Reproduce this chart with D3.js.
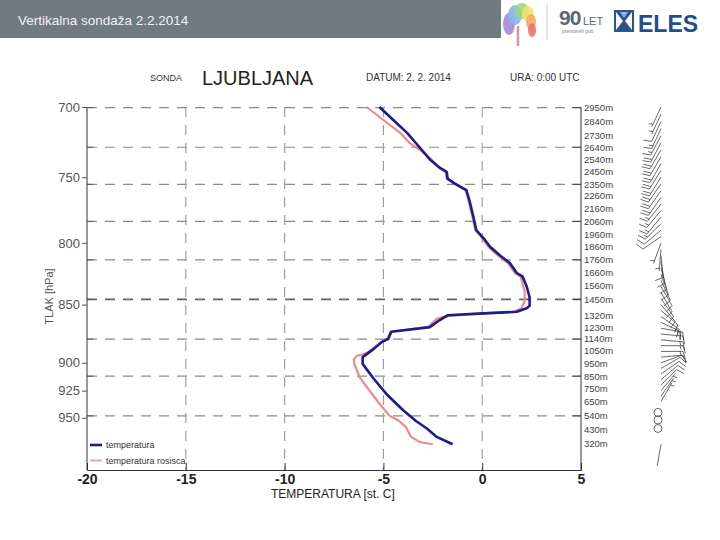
<!DOCTYPE html>
<html><head><meta charset="utf-8">
<script src="https://cdn.jsdelivr.net/npm/d3@7"></script>
<style>body{margin:0;background:#fff} svg{display:block;font-family:"Liberation Sans",Arial,sans-serif}</style>
</head><body><svg id="c" width="720" height="540"></svg>
<script>
// ---- data ----
const pressureTicks = [700, 750, 800, 850, 900, 925, 950];
const tempTicks = [-20, -15, -10, -5, 0, 5];
const gridTemps = [-15, -10, -5, 0];
const heightLabels = [2950, 2840, 2730, 2640, 2540, 2450, 2350, 2260, 2160, 2060, 1960, 1860, 1760, 1660, 1560, 1450, 1320, 1230, 1140, 1050, 950, 850, 750, 650, 540, 430, 320];

const tempP = [700, 709, 718, 727, 737, 743, 746, 751, 754.5, 759.5, 767, 779.5, 790, 796, 803, 810, 816, 824, 827, 835, 844, 851, 853, 856, 857.6, 859, 863, 869, 873, 879, 882, 888, 895, 901, 914, 928, 943, 953, 960, 968, 975];
const tempT = [-5.2, -4.5, -3.8, -3.25, -2.65, -2.15, -1.8, -1.75, -1.4, -0.8, -0.65, -0.45, -0.3, 0.05, 0.4, 0.9, 1.4, 1.75, 2.05, 2.25, 2.4, 2.4, 2.25, 1.75, -0.15, -1.75, -2.15, -2.65, -4.6, -4.75, -5.1, -5.5, -6.05, -6.05, -5.5, -4.85, -4.0, -3.35, -2.8, -2.3, -1.5];

const dewP = [700, 709, 718, 725.5, 730, 736, 743.5, 746, 751, 754.5, 759.5, 767, 779.5, 790, 796, 803, 810, 816, 824, 827, 839, 847, 853, 856, 857.6, 860, 862, 869, 873, 879, 881, 887, 891.5, 894, 897, 902, 913, 925, 937, 948, 953, 959, 968, 973, 975];
const dewT = [-5.85, -5.0, -4.15, -3.65, -3.15, -2.65, -2.15, -1.85, -1.8, -1.45, -0.85, -0.7, -0.5, -0.35, 0.0, 0.3, 0.8, 1.3, 1.65, 1.95, 2.15, 2.15, 2.0, 1.6, -0.3, -1.9, -2.3, -2.75, -4.65, -4.8, -5.0, -5.5, -5.85, -6.35, -6.5, -6.45, -6.2, -5.7, -5.2, -4.7, -4.2, -3.85, -3.6, -3.15, -2.5];

const windP   = [700, 705, 710, 715, 720, 725, 730, 735, 740, 745, 750, 755, 760, 765, 770, 775, 780, 785, 790, 795, 800, 805, 810, 815, 820, 825, 830, 835, 840, 845, 850, 855, 860, 865, 870, 875, 880, 885, 890, 895, 900, 905, 910, 915, 920, 925, 930, 935, 975];
const windDir = [205, 205, 205, 205, 208, 208, 210, 210, 210, 212, 212, 215, 215, 215, 218, 220, 220, 225, 230, 235, 200, 185, 175, 170, 165, 160, 155, 150, 150, 145, 140, 130, 125, 115, 100, 95, 95, 90, 90, 85, 70, 60, 55, 50, 45, 40, 35, 30, 190];
const windSpd = [5, 5, 10, 15, 15, 20, 20, 20, 20, 20, 20, 20, 20, 20, 15, 15, 15, 15, 10, 10, 5, 5, 10, 10, 10, 10, 10, 10, 10, 10, 10, 10, 15, 15, 15, 15, 15, 15, 15, 10, 10, 10, 10, 10, 10, 5, 5, 5, 0];
const calmP = [945, 952, 960];

// ---- scales ----
const svg = d3.select("#c");
const x = d3.scaleLinear().domain([-20, 5]).range([87, 581]);
const y = d3.scaleLog().domain([700, 1000]).range([107, 470]);
const yH = d3.scaleLinear().domain([2950, 320]).range([107.6, 444]);

// ---- header ----
svg.append("rect").attr("x", 0).attr("y", 0).attr("width", 501).attr("height", 38).attr("fill", "#6f7a81");
svg.append("text").attr("x", 18).attr("y", 25).attr("fill", "#f2f2f2").attr("font-size", 13.5).text("Vertikalna sondaža 2.2.2014");
const tree = svg.append("g");
tree.append("line").attr("x1", 518).attr("y1", 26).attr("x2", 518).attr("y2", 46).attr("stroke", "#c99aa8").attr("stroke-width", 2.5);
[["#a58ad8", 509, 24, 6, 11], ["#86b6f0", 515, 15, 7, 10], ["#9ad97e", 522, 11, 7, 8], ["#f1e26d", 528, 14, 6, 8], ["#f4ad63", 531, 22, 5, 8], ["#ee7171", 532, 30, 4, 7]]
  .forEach(([c, cx, cy, rx, ry]) => tree.append("ellipse").attr("cx", cx).attr("cy", cy).attr("rx", rx).attr("ry", ry).attr("fill", c).attr("opacity", 0.9));
svg.append("line").attr("x1", 547).attr("y1", 4).attr("x2", 547).attr("y2", 40).attr("stroke", "#c8c8c8");
svg.append("text").attr("x", 559).attr("y", 25).attr("font-size", 21).attr("font-weight", "bold").attr("fill", "#5d6770").attr("letter-spacing", -1).text("90");
svg.append("text").attr("x", 583).attr("y", 25).attr("font-size", 11).attr("fill", "#5d6770").text("LET");
svg.append("text").attr("x", 562).attr("y", 33).attr("font-size", 5).attr("fill", "#7a8088").text("prenosnih poti");
const icon = svg.append("g");
icon.append("rect").attr("x", 614).attr("y", 10).attr("width", 20).attr("height", 22).attr("fill", "#2a5592");
icon.append("path").attr("d", "M616,12 L623,21 L616,30 Z M632,12 L625,21 L632,30 Z").attr("fill", "#fff");
icon.append("path").attr("d", "M620,12 L628,12 L624,18 Z").attr("fill", "#8fb1d9");
svg.append("text").attr("x", 638).attr("y", 32).attr("font-size", 23).attr("font-weight", "bold").attr("fill", "#1f4f8f").text("ELES");

// ---- titles ----
svg.append("text").attr("x", 150).attr("y", 81).attr("font-size", 9).attr("fill", "#333").text("SONDA");
svg.append("text").attr("x", 202).attr("y", 85).attr("font-size", 20).attr("fill", "#222").text("LJUBLJANA");
svg.append("text").attr("x", 366).attr("y", 81).attr("font-size", 10).attr("fill", "#333").text("DATUM: 2. 2. 2014");
svg.append("text").attr("x", 510).attr("y", 81).attr("font-size", 10).attr("fill", "#333").text("URA: 0:00 UTC");

// ---- grid ----
const grid = svg.append("g");
grid.selectAll(".hg").data(heightLabels.filter((d, i) => i % 3 === 0)).join("line")
  .attr("x1", x(-20)).attr("x2", x(5)).attr("y1", d => yH(d)).attr("y2", d => yH(d))
  .attr("stroke", d => d === 1450 ? "#666" : "#8a8a8a").attr("stroke-width", d => d === 1450 ? 1.8 : 1.2)
  .attr("stroke-dasharray", "10,8");
grid.selectAll(".vg").data(gridTemps).join("line")
  .attr("x1", d => x(d)).attr("x2", d => x(d)).attr("y1", y(700)).attr("y2", y(1000))
  .attr("stroke", "#a0a0a0").attr("stroke-width", 1.2).attr("stroke-dasharray", "10,8");

// ---- axes ----
const axB = svg.append("g").attr("transform", `translate(0,${y(1000)})`)
  .call(d3.axisBottom(x).tickValues(tempTicks).tickSize(-7).tickPadding(0).tickFormat(d => String(d)));
axB.select(".domain").attr("stroke", "#333");
axB.selectAll(".tick line").attr("stroke", "#333");
axB.selectAll(".tick text").attr("font-size", 14).attr("font-weight", "bold").attr("fill", "#222")
  .attr("font-family", "Liberation Sans, Arial, sans-serif").attr("y", 14).attr("dy", null);

const axL = svg.append("g").attr("transform", `translate(${x(-20)},0)`)
  .call(d3.axisLeft(y).tickValues(pressureTicks).tickSize(5).tickPadding(2).tickFormat(d => String(d)));
axL.select(".domain").attr("stroke", "#333").attr("d", `M0,${y(700)}V${y(1000)}`);
axL.selectAll(".tick line").attr("stroke", "#555");
axL.selectAll(".tick text").attr("font-size", 13).attr("fill", "#555").attr("font-family", "Liberation Sans, Arial, sans-serif");
svg.append("g").selectAll("line").data(heightLabels.filter((d, i) => i % 3 === 0)).join("line")
  .attr("x1", x(-20)).attr("x2", x(-20) + 6).attr("y1", d => yH(d)).attr("y2", d => yH(d)).attr("stroke", "#555");

const axR = svg.append("g").attr("transform", `translate(${x(5)},0)`);
axR.append("line").attr("x1", 0).attr("x2", 0).attr("y1", y(700)).attr("y2", y(1000)).attr("stroke", "#333");
axR.selectAll(".rt").data(heightLabels.filter((d, i) => i % 3 === 0)).join("line")
  .attr("x1", -9).attr("x2", 0).attr("y1", d => yH(d)).attr("y2", d => yH(d)).attr("stroke", "#444");
axR.selectAll(".rl").data(heightLabels).join("text")
  .attr("x", 3).attr("y", d => yH(d)).attr("dy", "0.35em").attr("font-size", 9.5).attr("fill", "#444")
  .text(d => d + "m");

svg.append("text").attr("transform", `translate(53,${(y(700) + y(1000)) / 2 + 8}) rotate(-90)`).attr("text-anchor", "middle")
  .attr("font-size", 11).attr("fill", "#555").text("TLAK [hPa]");
svg.append("text").attr("x", 271).attr("y", 498).attr("font-size", 12).attr("fill", "#222").text("TEMPERATURA [st. C]");

// ---- lines ----
const line = d3.line().x(d => x(d[1])).y(d => y(d[0]));
svg.append("path").datum(dewP.map((p, i) => [p, dewT[i]])).attr("d", line)
  .attr("fill", "none").attr("stroke", "#f08a86").attr("stroke-width", 2.2).attr("stroke-linejoin", "round");
svg.append("path").datum(tempP.map((p, i) => [p, tempT[i]])).attr("d", line)
  .attr("fill", "none").attr("stroke", "#1c1c8e").attr("stroke-width", 2.6).attr("stroke-linejoin", "round");

// ---- legend ----
const lg = svg.append("g");
[["temperatura", "#1c1c8e", 2.6], ["temperatura rosisca", "#f4a4a2", 2]].forEach(([t, c, w], i) => {
  const yy = 445 + i * 15.5;
  lg.append("line").attr("x1", 90).attr("x2", 102).attr("y1", yy).attr("y2", yy).attr("stroke", c).attr("stroke-width", w);
  lg.append("text").attr("x", 106).attr("y", yy).attr("dy", "0.35em").attr("font-size", 9).attr("fill", "#333").text(t);
});

// ---- wind barbs ----
const wb = svg.append("g").attr("stroke", "#444").attr("stroke-width", 0.8).attr("fill", "none");
const baseX = 661;
windP.forEach((p, i) => {
  const px = baseX, py = y(p);
  const L = 22, rad = windDir[i] * Math.PI / 180;
  const ux = Math.sin(rad), uy = -Math.cos(rad);
  const tx = px + ux * L, ty = py + uy * L;
  wb.append("line").attr("x1", px).attr("y1", py).attr("x2", tx).attr("y2", ty);
  const vx = -uy, vy = ux;
  let s = Math.round(windSpd[i] / 5) * 5, pos = 0;
  const fl = 8;
  while (s >= 10) {
    const bx = tx - ux * pos, by = ty - uy * pos;
    wb.append("line").attr("x1", bx).attr("y1", by).attr("x2", bx + vx * fl + ux * fl * 0.3).attr("y2", by + vy * fl + uy * fl * 0.3);
    pos += 3; s -= 10;
  }
  if (s >= 5) {
    if (pos === 0) pos = 3;
    const bx = tx - ux * pos, by = ty - uy * pos;
    wb.append("line").attr("x1", bx).attr("y1", by).attr("x2", bx + vx * fl * 0.5 + ux * fl * 0.15).attr("y2", by + vy * fl * 0.5 + uy * fl * 0.15);
  }
});
wb.selectAll("circle").data(calmP).join("circle").attr("cx", baseX - 3).attr("cy", d => y(d)).attr("r", 4);
</script></body></html>
